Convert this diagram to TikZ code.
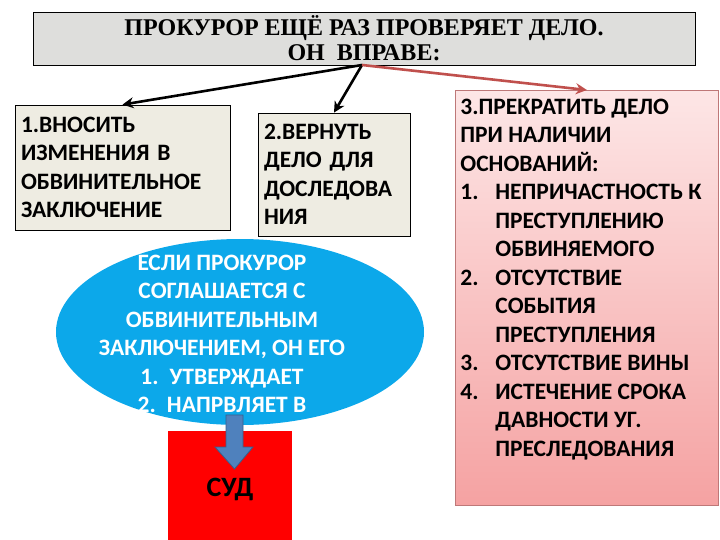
\documentclass[tikz,border=0pt]{standalone}
\usepackage{fontspec}
\setmainfont{Liberation Serif}
\newfontfamily\bodyfont{Carlito}
\usetikzlibrary{shapes.geometric,arrows.meta}

\definecolor{titlegray}{RGB}{222,222,220}
\definecolor{boxbeige}{RGB}{238,236,226}
\definecolor{ellblue}{RGB}{12,168,234}
\definecolor{courtred}{RGB}{255,0,0}
\definecolor{downblue}{RGB}{79,129,189}
\definecolor{downedge}{RGB}{56,93,138}
\definecolor{redline}{RGB}{192,80,77}
\definecolor{pinktop}{RGB}{253,230,230}
\definecolor{pinkbot}{RGB}{245,162,162}
\definecolor{pinkedge}{RGB}{190,120,120}

\tikzset{
  rightbox/.style={draw=black, fill=boxbeige, line width=0.8pt, inner sep=6pt,
    font=\bodyfont\bfseries\fontsize{23.5}{28.5}\selectfont, align=left},
  pointer/.style={line width=2.6pt, -{Stealth[length=11pt,width=11pt]}}
}

\newcommand{\punkt}[2]{\par\noindent\hangindent=35pt\hangafter=1\makebox[35pt][l]{#1}#2\par}

\begin{document}
\begin{tikzpicture}[x=1pt, y=-1pt]
  \useasboundingbox (0,0) rectangle (720,540);

  % title
  \node[draw=black, fill=titlegray, line width=0.8pt, minimum width=662pt, minimum height=53pt,
        align=center, font=\bfseries\fontsize{24}{25}\selectfont] (title) at (364, 38.5)
        {ПРОКУРОР ЕЩЁ РАЗ ПРОВЕРЯЕТ ДЕЛО.\\ОН \ ВПРАВЕ:};
  \coordinate (src) at (362, 65);

  % three rights
  \node[rightbox, minimum width=215pt, minimum height=125pt, text width=203pt] (vnosit) at (122.5, 167.5)
        {1.ВНОСИТЬ\\ИЗМЕНЕНИЯ В\\ОБВИНИТЕЛЬНОЕ\\ЗАКЛЮЧЕНИЕ};

  \node[rightbox, minimum width=152pt, minimum height=123pt, text width=140pt] (vernut) at (334, 174.5)
        {2.ВЕРНУТЬ\\ДЕЛО ДЛЯ\\ДОСЛЕДОВА\\НИЯ};

  \node[draw=pinkedge, top color=pinktop, bottom color=pinkbot, line width=0.8pt,
        anchor=north west, inner xsep=0pt, inner ysep=7pt, minimum width=263pt, minimum height=415pt,
        font=\bodyfont\bfseries\fontsize{23.5}{28.5}\selectfont] (prekr) at (455, 90)
        {\begin{minipage}[t][398pt][t]{253pt}\rightskip=0pt plus 1fil
          \noindent 3.ПРЕКРАТИТЬ ДЕЛО\newline ПРИ НАЛИЧИИ\newline ОСНОВАНИЙ:
          \punkt{1.}{НЕПРИЧАСТНОСТЬ К\newline ПРЕСТУПЛЕНИЮ\newline ОБВИНЯЕМОГО}
          \punkt{2.}{ОТСУТСТВИЕ\newline СОБЫТИЯ\newline ПРЕСТУПЛЕНИЯ}
          \punkt{3.}{ОТСУТСТВИЕ ВИНЫ}
          \punkt{4.}{ИСТЕЧЕНИЕ СРОКА\newline ДАВНОСТИ УГ.\newline ПРЕСЛЕДОВАНИЯ}
        \end{minipage}};

  \draw[pointer] (src) -- (vnosit.north);
  \draw[pointer] (src) -- (vernut.north);
  \draw[pointer, redline] (src) -- (prekr.north);

  % agreement
  \node[ellipse, fill=ellblue, minimum width=368pt, minimum height=186pt] (soglas) at (240, 332) {};
  \node[align=center, text=white, font=\bodyfont\bfseries\fontsize{23.5}{28.5}\selectfont] (soglastext) at (222, 334)
        {ЕСЛИ ПРОКУРОР\\СОГЛАШАЕТСЯ С\\ОБВИНИТЕЛЬНЫМ\\ЗАКЛЮЧЕНИЕМ, ОН ЕГО\\1. \,УТВЕРЖДАЕТ\\2. \,НАПРВЛЯЕТ В};

  \node[fill=courtred, minimum width=124pt, minimum height=116pt,
        font=\bodyfont\bfseries\fontsize{28}{30}\selectfont] (sud) at (230, 489) {СУД};

  \draw[fill=downblue, draw=downedge, line width=0.8pt]
        (226,415) -- (243,415) -- (243,447) -- (253,447) -- (234.5,469) -- (215,447) -- (226,447) -- cycle;

\end{tikzpicture}
\end{document}
